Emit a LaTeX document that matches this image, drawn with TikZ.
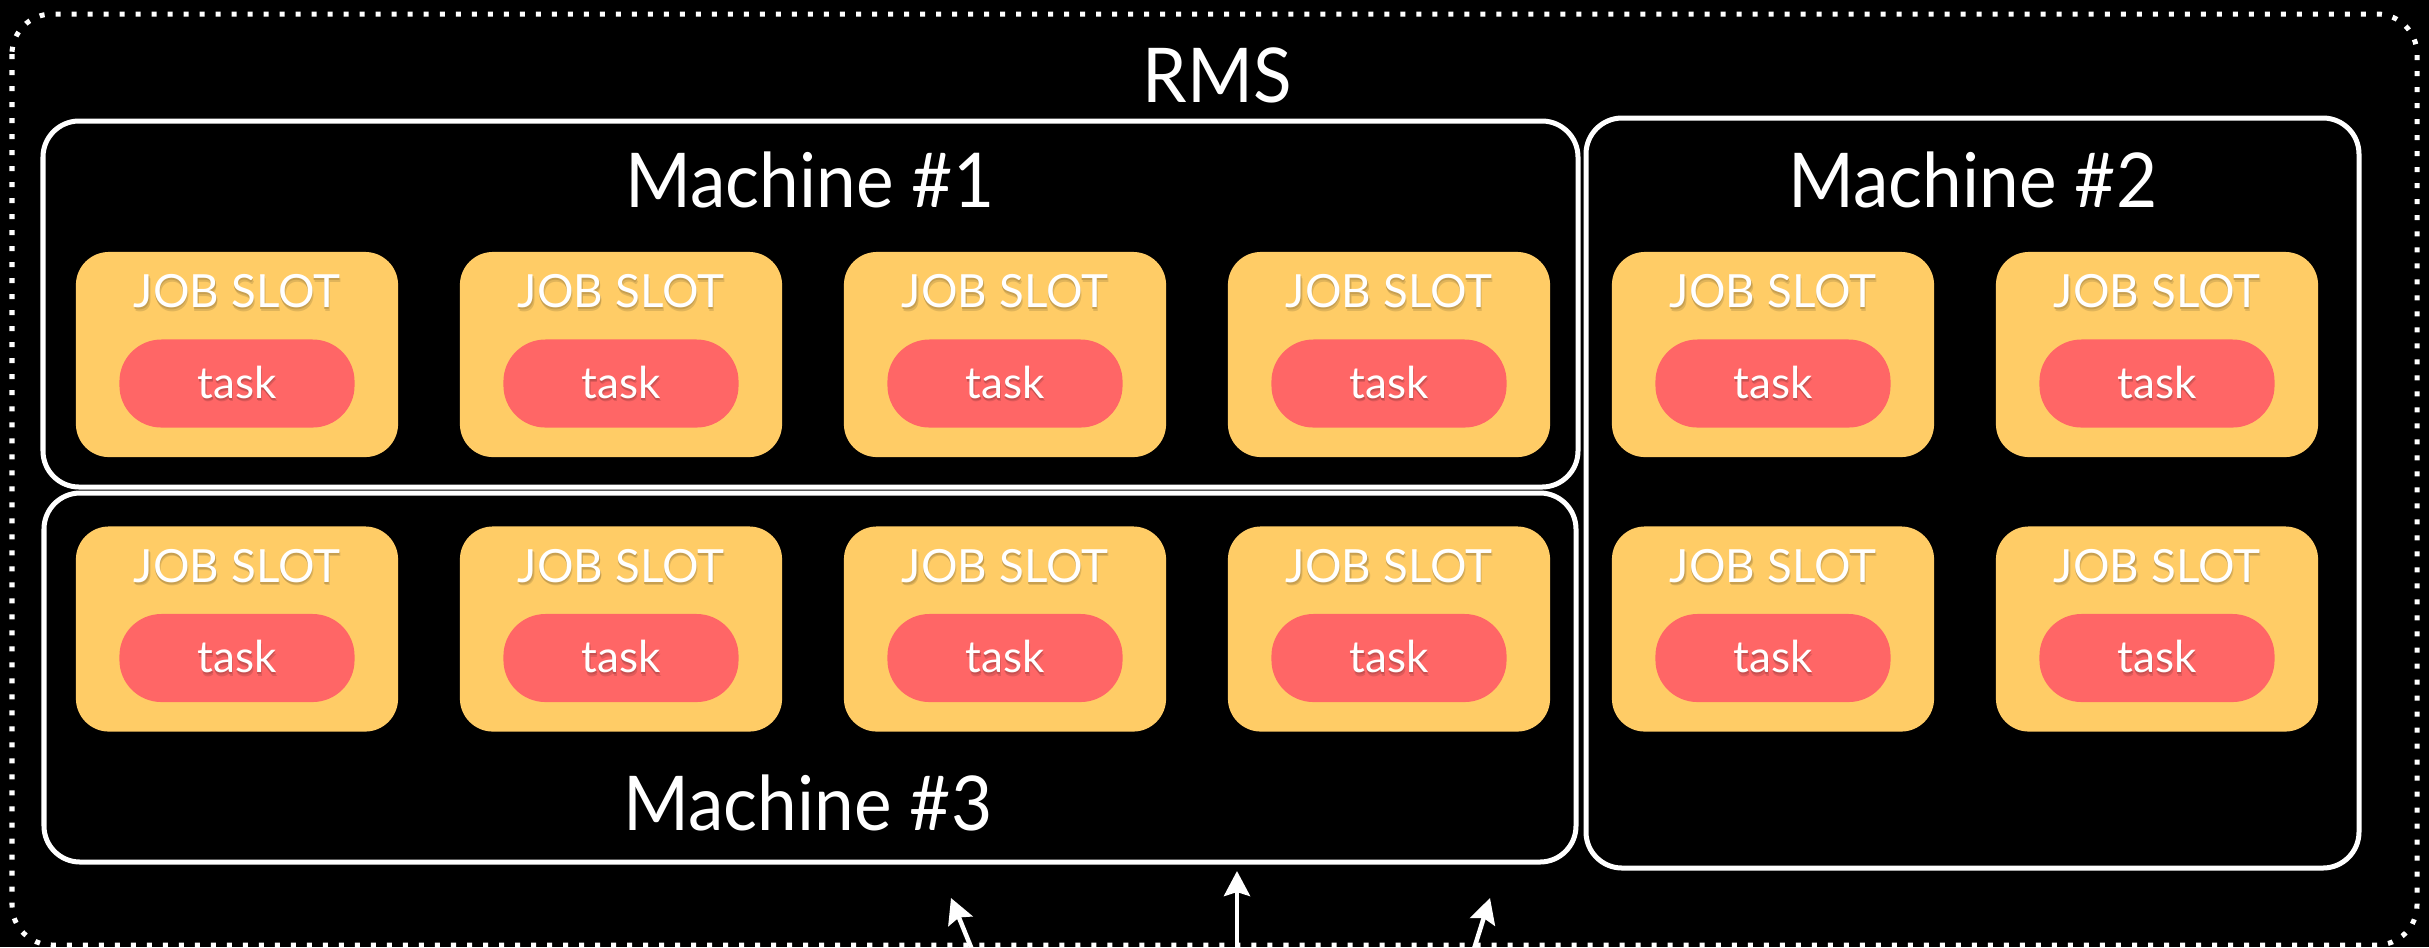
\documentclass[tikz,border=0pt]{standalone}
\usepackage{fontspec}
\setmainfont{Lato}
\newfontfamily\titlefont[FakeStretch=0.94]{Lato}
\usetikzlibrary{arrows.meta}

\definecolor{slotyellow}{HTML}{FFCC66}
\definecolor{taskred}{HTML}{FF6666}

% white text with a soft drop shadow underneath
\newcommand{\shadowed}[2]{%
  \makebox[0pt][l]{\raisebox{-1.1pt}[0pt][0pt]{\hspace*{0.3pt}\textcolor{#1!88!black}{#2}}}%
  \makebox[0pt][l]{\raisebox{-0.6pt}[0pt][0pt]{\hspace*{0.15pt}\textcolor{#1!78!black}{#2}}}%
  \textcolor{white}{#2}}

\begin{document}
\begin{tikzpicture}[x=0.01cm, y=-0.01cm,
  machine/.style 2 args={draw=white, line width=0.05cm, rounded corners=0.36cm,
    minimum width=#1*0.01cm, minimum height=#2*0.01cm, inner sep=0pt},
  slotbox/.style={fill=slotyellow, rounded corners=0.33cm,
    minimum width=3.22cm, minimum height=2.05cm, inner sep=0pt},
  taskbox/.style={fill=taskred, rounded corners=0.42cm,
    minimum width=2.35cm, minimum height=0.88cm, inner sep=0pt},
  bigtext/.style={text=white, anchor=base, inner sep=0pt,
    font=\titlefont\fontsize{21.5}{26}\selectfont},
  slottext/.style={anchor=base, inner sep=0pt, font=\fontsize{13}{16}\selectfont},
  tasktext/.style={anchor=base, inner sep=0pt, font=\fontsize{12.5}{15}\selectfont},
  feed/.style={draw=white, line width=0.045cm,
    -{Stealth[length=0.25cm, width=0.26cm, inset=0.04cm]}}
]
  % canvas
  \useasboundingbox (0,0) rectangle (2429,947);
  \fill[black] (0,0) rectangle (2429,947);

  % resource management system boundary
  \draw[white, line width=0.05cm, dash pattern=on 0.05cm off 0.11cm,
        rounded corners=0.4cm] (12,14) rectangle (2417,945);
  \node[bigtext] (rms) at (1217,102) {RMS};

  % machines
  \node[machine={1535}{366}] (m1) at (810.5,304) {};
  \node[machine={1532}{369}] (m3) at (810,677.5) {};
  \node[machine={773}{750}] (m2) at (1972.5,493) {};
  \node[bigtext] (m1label) at (810,207) {Machine \#1};
  \node[bigtext] (m2label) at (1973,207) {Machine \#2};
  \node[bigtext] (m3label) at (808,830) {Machine \#3};

  % job slots, each running one task
  \foreach \x [count=\c] in {237,621,1005,1389,1773,2157} {
    \foreach \y [count=\r] in {354.5,629} {
      \node[slotbox] (slot\r\c) at (\x,\y) {};
      \node[slottext] (slotlabel\r\c) at (\x,{\y-47}) {\shadowed{slotyellow}{JOB SLOT}};
      \node[taskbox] (task\r\c) at (\x,{\y+29}) {};
      \node[tasktext] (tasklabel\r\c) at (\x,{\y+43.5}) {\shadowed{taskred}{task}};
    }
  }

  % incoming jobs
  \coordinate (in1) at (973,952);
  \coordinate (in2) at (1237,952);
  \coordinate (in3) at (1473,952);
  \coordinate (to1) at (951,898);
  \coordinate (to2) at (1237,871);
  \coordinate (to3) at (1490,898);
  \draw[feed] (in1) -- (to1);
  \draw[feed] (in2) -- (to2);
  \draw[feed] (in3) -- (to3);
\end{tikzpicture}
\end{document}
